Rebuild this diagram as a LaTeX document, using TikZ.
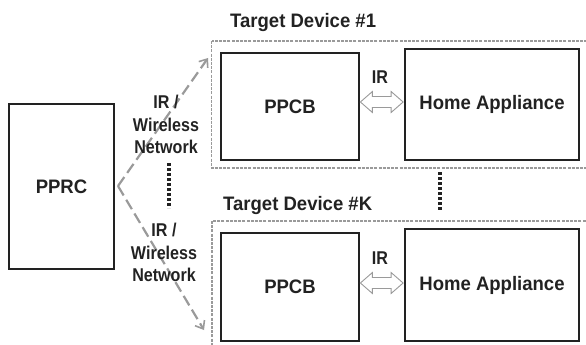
\documentclass[tikz,border=0pt]{standalone}
\usepackage{fontspec}
\setmainfont{Liberation Sans}
\newfontfamily\bigfnt[FakeStretch=0.95]{Liberation Sans}
\newfontfamily\lblfnt[FakeStretch=0.87]{Liberation Sans}
\usetikzlibrary{arrows.meta,calc}
\definecolor{ink}{HTML}{222222}
\definecolor{lgray}{HTML}{9A9A9A}
\begin{document}
\begin{tikzpicture}[x=1pt,y=-1pt,
  box/.style={draw=ink,line width=1.8pt,inner sep=0pt},
  big/.style={font=\bigfnt\fontsize{19.5}{22}\selectfont\bfseries,text=ink},
  small/.style={font=\lblfnt\fontsize{18.5}{22.5}\selectfont\bfseries,text=ink,align=center},
  devbox/.style={draw=lgray,line width=1.3pt,dash pattern=on 3pt off 1.2pt},
  wlink/.style={draw=lgray,line width=2.2pt,dash pattern=on 11pt off 5pt,-{Straight Barb[length=7pt,width=11pt,line width=1.6pt]}},
  irarrow/.style={draw=lgray,line width=0.9pt,fill=white},
  dots/.style={draw=ink,line width=3.5pt,dash pattern=on 3pt off 2pt}
]
\useasboundingbox (0,0) rectangle (586,345);
\begin{scope}
\clip (0,0) rectangle (586,345);
% device boxes
\draw[devbox] (211.5,41) rectangle (600,168);
\draw[devbox] (212,221) rectangle (600,360);
\end{scope}
% PPRC
\node[box,big,minimum width=105pt,minimum height=165pt] (pprc) at (61.5,186.5) {PPRC};
% Device 1
\node[box,big,minimum width=138pt,minimum height=107pt] (ppcb1) at (290,106.5) {PPCB};
\node[box,big,minimum width=174pt,minimum height=111pt] (ha1) at (492,104.5) {Home Appliance};
\node[big,anchor=west,inner sep=0pt] (t1) at (230,23) {Target Device \#1};
\node[small] (ir1) at (380,77) {IR};
% Device K
\node[box,big,minimum width=138pt,minimum height=108pt] (ppcb2) at (290,287) {PPCB};
\node[box,big,minimum width=174pt,minimum height=112pt] (ha2) at (492,285) {Home Appliance};
\node[big,anchor=west,inner sep=0pt] (t2) at (223,205) {Target Device \#K};
\node[small] (ir2) at (380,258) {IR};
% IR double arrows
\foreach \a/\b/\yy in {ppcb1/ha1/102, ppcb2/ha2/283}{
  \coordinate (L) at ($(\a.east |- 0,\yy)+(0.5,0)$);
  \coordinate (R) at ($(\b.west |- 0,\yy)+(-1,0)$);
  \draw[irarrow] (L) -- ++(12,-10.5) -- ++(0,5) -- ($(R)+(-12,-5.5)$) -- ++(0,-5) -- (R)
     -- ++(-12,10.5) -- ++(0,-5) -- ($(L)+(12,5.5)$) -- ++(0,5) -- cycle;
}
% wireless links
\coordinate (src) at (118,186);
\coordinate (e1) at (208,58);
\coordinate (e2) at (204,330);
\draw[wlink] (src) -- (e1);
\draw[wlink] (src) -- (e2);
% labels
\node[small] (w1) at (166,124.5) {IR /\\Wireless\\Network};
\node[small] (w2) at (164,252.5) {IR /\\Wireless\\Network};
% dotted continuation marks
\coordinate (d1a) at (169,163);
\coordinate (d1b) at (169,208);
\draw[dots] (d1a) -- (d1b);
\coordinate (d2a) at (440,172);
\coordinate (d2b) at (440,211);
\draw[dots] (d2a) -- (d2b);
\end{tikzpicture}
\end{document}
